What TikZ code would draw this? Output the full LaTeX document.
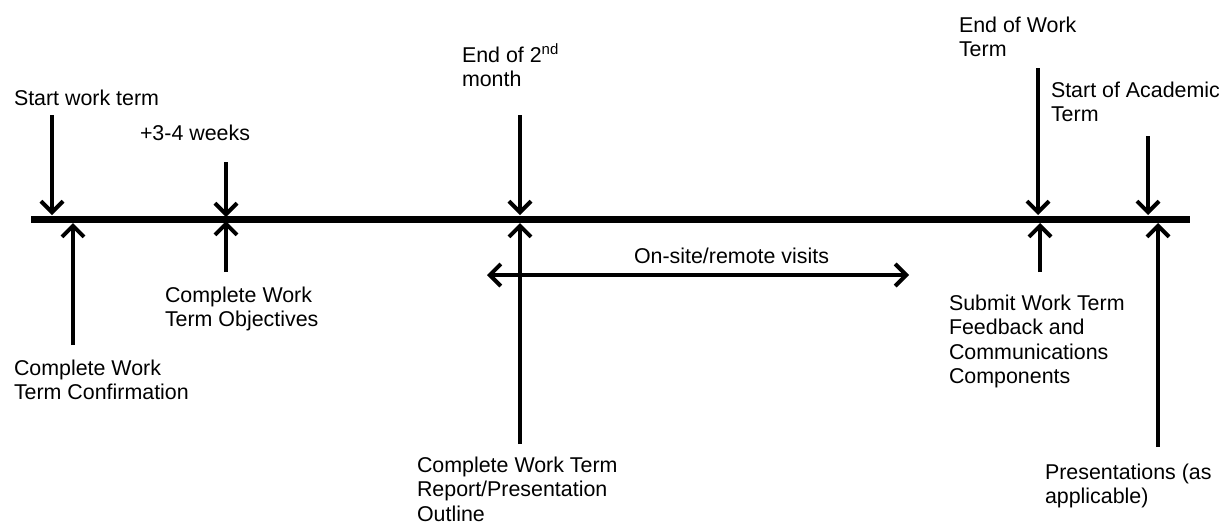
\documentclass[tikz,border=0pt]{standalone}
\usepackage{fontspec}
\setmainfont{Liberation Sans}
\usetikzlibrary{arrows.meta}

\begin{document}
\begin{tikzpicture}
    [x=1pt, y=-1pt,
    line width=4pt,
    timeline/.style={line width=7pt},
    ->-/.style={-{Straight Barb[length=11pt, width=22pt]}},
    <->-/.style={{Straight Barb[length=11pt, width=22pt]}-{Straight Barb[length=11pt, width=22pt]}},
    lbl/.style={anchor=north west, inner sep=0pt, align=left,
        font=\fontsize{21.4}{24.5}\selectfont}]
        \useasboundingbox (0,0) rectangle (1232,523);

        % the time axis
        \coordinate (T0) at (31,219);
        \coordinate (T1) at (1190,219);
        \draw[timeline] (T0) -- (T1);

        % tips on the axis (down = above the line, up = below it)
        \coordinate (startD) at (52,215);
        \coordinate (confU) at (73,223);
        \coordinate (weeksD) at (226,217);
        \coordinate (weeksU) at (226,221);
        \coordinate (monthD) at (520,215);
        \coordinate (monthU) at (520,223);
        \coordinate (endD) at (1038,215);
        \coordinate (endU) at (1040,223);
        \coordinate (acadD) at (1148,215);
        \coordinate (acadU) at (1158,223);

        % free ends
        \coordinate (startTop) at (52,115);
        \coordinate (confBot) at (73,345);
        \coordinate (weeksTop) at (226,162);
        \coordinate (weeksBot) at (226,272);
        \coordinate (monthTop) at (520,115);
        \coordinate (monthBot) at (520,444);
        \coordinate (endTop) at (1038,68);
        \coordinate (endBot) at (1040,272);
        \coordinate (acadTop) at (1148,136);
        \coordinate (acadBot) at (1158,447);
        \coordinate (visitL) at (487,275);
        \coordinate (visitR) at (909,275);

        \draw[->-] (startTop) -- (startD);
        \draw[->-] (confBot) -- (confU);
        \draw[->-] (weeksTop) -- (weeksD);
        \draw[->-] (weeksBot) -- (weeksU);
        \draw[->-] (monthTop) -- (monthD);
        \draw[->-] (monthBot) -- (monthU);
        \draw[->-] (endTop) -- (endD);
        \draw[->-] (endBot) -- (endU);
        \draw[->-] (acadTop) -- (acadD);
        \draw[->-] (acadBot) -- (acadU);
        \draw[<->-] (visitL) -- (visitR);

        % labels
        \node[lbl] (start) at (12,87.5) {Start work term};
        \node[lbl] (weeks) at (138,122.5) {+3-4 weeks};
        \node[lbl] (month) at (460,42) {End of 2\textsuperscript{nd}\\month};
        \node[lbl] (end) at (957,14.5) {End of Work\\Term};
        \node[lbl] (acad) at (1049,79.5) {Start of Academic\\Term};
        \node[lbl] (conf) at (12,357.5) {Complete Work\\Term Confirmation};
        \node[lbl] (obj) at (163,284.5) {Complete Work\\Term Objectives};
        \node[lbl] (report) at (415,454.5) {Complete Work Term\\Report/Presentation\\Outline};
        \node[lbl] (submit) at (947,292.5) {Submit Work Term\\Feedback and\\Communications\\Components};
        \node[lbl] (pres) at (1043,461.5) {Presentations (as\\applicable)};
        \node[lbl] (visits) at (632,245.5) {On-site/remote visits};
   \end{tikzpicture}
\end{document}
